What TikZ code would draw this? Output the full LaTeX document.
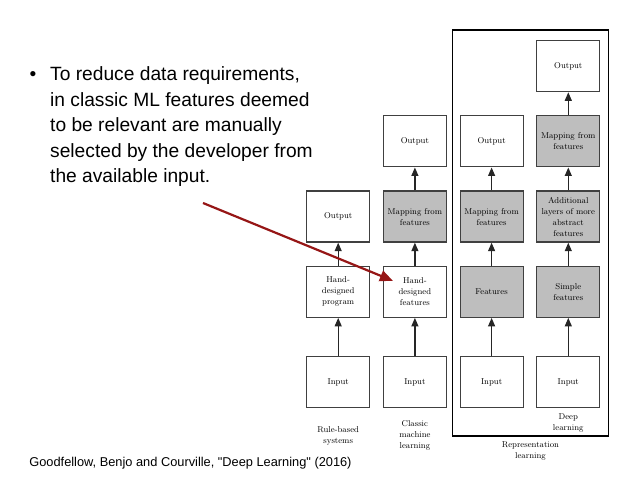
\documentclass[tikz,border=0pt]{standalone}
\usepackage{fontspec}
\newfontfamily\slidefont{Liberation Sans}
\usetikzlibrary{arrows.meta, positioning, calc, fit}
\definecolor{learnedgray}{RGB}{190,190,190}
\definecolor{pointerred}{RGB}{150,22,22}

\begin{document}
\begin{tikzpicture}[
    x=1pt, y=1pt,
    font=\fontsize{8.5}{11}\selectfont,
    node distance=23pt and 12.5pt,
    >={Triangle[length=8.5pt,width=7pt]},
    block/.style={rectangle, draw=black!75, line width=1.2pt, minimum width=63pt, minimum height=51pt, align=center, inner sep=1pt},
    learned/.style={block, fill=learnedgray},
    arrow/.style={->, line width=1.2pt, black!85},
    caption/.style={align=center, inner sep=0pt},
    slide/.style={font=\slidefont\fontsize{19.2}{25.5}\selectfont}
]
\useasboundingbox (0,0) rectangle (638,479);

% slide text
\node[slide, anchor=base] (bullet) at (33,398.3) {\textbullet};
\node[slide, anchor=north west, inner sep=0pt, align=left] (point) at (50,412.3) {To reduce data requirements,\\in classic ML features deemed\\to be relevant are manually\\selected by the developer from\\the available input.};
\node[font=\slidefont\fontsize{12.8}{15}\selectfont] (source) at (190.5,16) {Goodfellow, Benjo and Courville, "Deep Learning" (2016)};

% bottom row
\node[block] (in1) at (338.2,97) {Input};
\node[block, right=of in1] (in2) {Input};
\node[block, right=of in2] (in3) {Input};
\node[block, right=of in3] (in4) {Input};
% features
\node[block, above=38pt of in1] (prog) {Hand-\\designed\\program};
\node[block, above=38pt of in2] (hfeat) {Hand-\\designed\\features};
\node[learned, above=38pt of in3] (feat) {Features};
\node[learned, above=38pt of in4] (simple) {Simple\\features};
% upper layers
\node[block, above=of prog] (out1) {Output};
\node[learned, above=of hfeat] (map2) {Mapping from\\features};
\node[block, above=of map2] (out2) {Output};
\node[learned, above=of feat] (map3) {Mapping from\\features};
\node[block, above=of map3] (out3) {Output};
\node[learned, above=of simple] (abstract) {Additional\\layers of more\\abstract\\features};
\node[learned, above=of abstract] (map4) {Mapping from\\features};
\node[block, above=of map4] (out4) {Output};

\draw[arrow] (in1) -- (prog);
\draw[arrow] (prog) -- (out1);
\draw[arrow] (in2) -- (hfeat);
\draw[arrow] (hfeat) -- (map2);
\draw[arrow] (map2) -- (out2);
\draw[arrow] (in3) -- (feat);
\draw[arrow] (feat) -- (map3);
\draw[arrow] (map3) -- (out3);
\draw[arrow] (in4) -- (simple);
\draw[arrow] (simple) -- (abstract);
\draw[arrow] (abstract) -- (map4);
\draw[arrow] (map4) -- (out4);

% column captions
\node[caption, below=18pt of in1] (rulelbl) {Rule-based\\systems};
\node[caption, below=12.5pt of in2] (classiclbl) {Classic\\machine\\learning};
\node[caption, below=5pt of in4] (deeplbl) {Deep\\learning};
\node[draw, line width=1.2pt, inner sep=0pt, fit={($(in3.south west)+(-7,-28)$) ($(out4.north east)+(8,10)$)}] (replearn) {};
\node[caption, below=5pt of replearn] (replbl) {Representation\\learning};

% pointer from the text
\coordinate (redstart) at (203,276);
\draw[-{Triangle[length=13pt,width=11pt]}, line width=2.2pt, pointerred] (redstart) -- ([xshift=-22pt,yshift=11pt]hfeat.center);
\end{tikzpicture}
\end{document}
